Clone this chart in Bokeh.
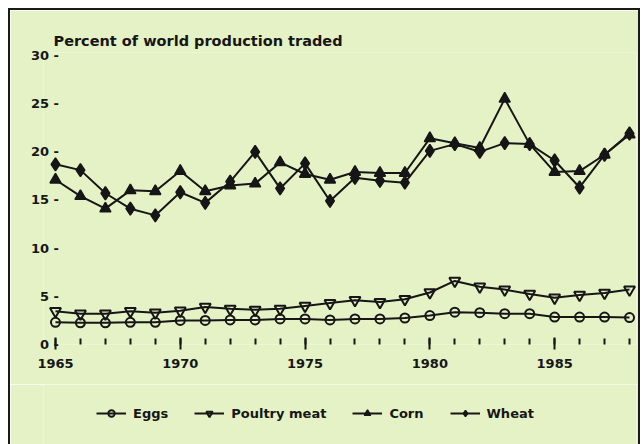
from bokeh.plotting import figure
from bokeh.models import FixedTicker, Legend, LegendItem, Range1d
from bokeh.layouts import column
from bokeh.embed import file_html
from bokeh.resources import INLINE

# ---- data ----
years = list(range(1965, 1989))
eggs = [2.3, 2.25, 2.25, 2.3, 2.3, 2.5, 2.5, 2.55, 2.55, 2.65, 2.65, 2.55,
        2.65, 2.65, 2.75, 3.0, 3.35, 3.3, 3.2, 3.2, 2.85, 2.85, 2.85, 2.8]
poultry_meat = [3.45, 3.2, 3.2, 3.45, 3.3, 3.5, 3.9, 3.7, 3.6, 3.7, 4.0, 4.3,
                4.6, 4.4, 4.7, 5.4, 6.6, 6.0, 5.7, 5.25, 4.85, 5.15, 5.35, 5.7]
corn = [17.1, 15.4, 14.1, 16.0, 15.9, 18.0, 15.9, 16.5, 16.7, 18.9, 17.7, 17.1,
        17.9, 17.8, 17.8, 21.4, 20.9, 20.4, 25.5, 20.8, 17.9, 18.0, 19.7, 21.8]
wheat = [18.7, 18.1, 15.7, 14.1, 13.4, 15.8, 14.7, 16.9, 20.0, 16.2, 18.8, 14.9,
         17.3, 17.0, 16.8, 20.1, 20.8, 20.0, 20.9, 20.8, 19.1, 16.3, 19.7, 21.9]

y_ticks = [0, 5, 10, 15, 20, 25, 30]
y_tick_labels = ["0  -", "5  -", "10  -", "15  -", "20  -", "25  -", "30  -"]
x_major_ticks = [1965, 1970, 1975, 1980, 1985]
title_text = "Percent of world production traded"
series_names = ["Eggs", "Poultry meat", "Corn", "Wheat"]
series_values = [eggs, poultry_meat, corn, wheat]

BG = "#e5f2c6"
INK = "#161616"
FRAME = "2px solid #1a1a1a"
FONT = "DejaVu Sans"

styles = [
    dict(marker="circle", size=9, fill_color=None, line_width=2),
    dict(marker="inverted_triangle", size=11, fill_color=None, line_width=2),
    dict(marker="triangle", size=11, fill_color=INK, line_width=1.5),
    dict(marker="diamond", size=13, fill_color=INK, line_width=1.5),
]

# ---------------- main chart ----------------
p = figure(width=628, height=374, output_backend="svg", toolbar_location=None,
           x_range=(1964.52, 1988.28), y_range=(0, 30.31),
           min_border_left=33, min_border_right=2, min_border_top=42,
           min_border_bottom=40,
           background_fill_color=BG, border_fill_color=BG, title=title_text)
p.outline_line_color = None
p.xgrid.visible = False
p.ygrid.visible = False

p.title.align = "left"
p.title.offset = 10
p.title.standoff = 7
p.title.text_font = FONT
p.title.text_font_style = "bold"
p.title.text_font_size = "14.5px"
p.title.text_color = INK

ya = p.yaxis[0]
ya.ticker = FixedTicker(ticks=y_ticks)
ya.major_label_overrides = dict(zip(y_ticks, y_tick_labels))
ya.axis_line_color = None
ya.major_tick_line_color = None
ya.minor_tick_line_color = None
ya.major_tick_in = 0
ya.major_tick_out = 0
ya.major_label_standoff = -20
ya.major_label_text_font = FONT
ya.major_label_text_font_style = "bold"
ya.major_label_text_font_size = "13px"
ya.major_label_text_color = INK

xa = p.xaxis[0]
xa.ticker = FixedTicker(ticks=x_major_ticks, minor_ticks=years)
xa.axis_line_color = None
xa.major_tick_in = 7
xa.major_tick_out = 5
xa.minor_tick_in = 6
xa.minor_tick_out = 0
xa.major_tick_line_width = 2
xa.minor_tick_line_width = 2
xa.major_tick_line_color = INK
xa.minor_tick_line_color = INK
xa.major_label_standoff = 9
xa.major_label_text_font = FONT
xa.major_label_text_font_style = "bold"
xa.major_label_text_font_size = "13px"
xa.major_label_text_color = INK

for vals, st in zip(series_values, styles):
    p.line(years, vals, line_color=INK, line_width=2)
    p.scatter(years, vals, line_color=INK, **st)

# ---------------- legend strip (same series, drawn outside its view) -------
q = figure(width=628, height=60, output_backend="svg", toolbar_location=None,
           x_range=Range1d(0, 1), y_range=Range1d(0, 1),
           x_axis_location=None, y_axis_location=None,
           min_border_left=0, min_border_right=0, min_border_top=0,
           min_border_bottom=0,
           background_fill_color=BG, border_fill_color=BG)
q.outline_line_color = None
q.xgrid.visible = False
q.ygrid.visible = False

items = []
for name, vals, st in zip(series_names, series_values, styles):
    rl = q.line(years, vals, line_color=INK, line_width=2)
    rs = q.scatter(years, vals, line_color=INK, **st)
    items.append(LegendItem(label=name, renderers=[rl, rs]))

legend = Legend(items=items, orientation="horizontal", location=(53, 23),
                background_fill_alpha=0, border_line_color=None,
                glyph_width=30, glyph_height=16, label_standoff=7, spacing=26,
                padding=3, margin=0,
                label_text_font=FONT, label_text_font_style="bold",
                label_text_font_size="13px", label_text_color=INK)
q.add_layout(legend, "center")

layout = column(p, q, spacing=0, margin=(8, 0, 0, 8),
                styles={"border-top": FRAME, "border-left": FRAME,
                        "border-right": FRAME})
open("out.html", "w").write(file_html(layout, INLINE))
